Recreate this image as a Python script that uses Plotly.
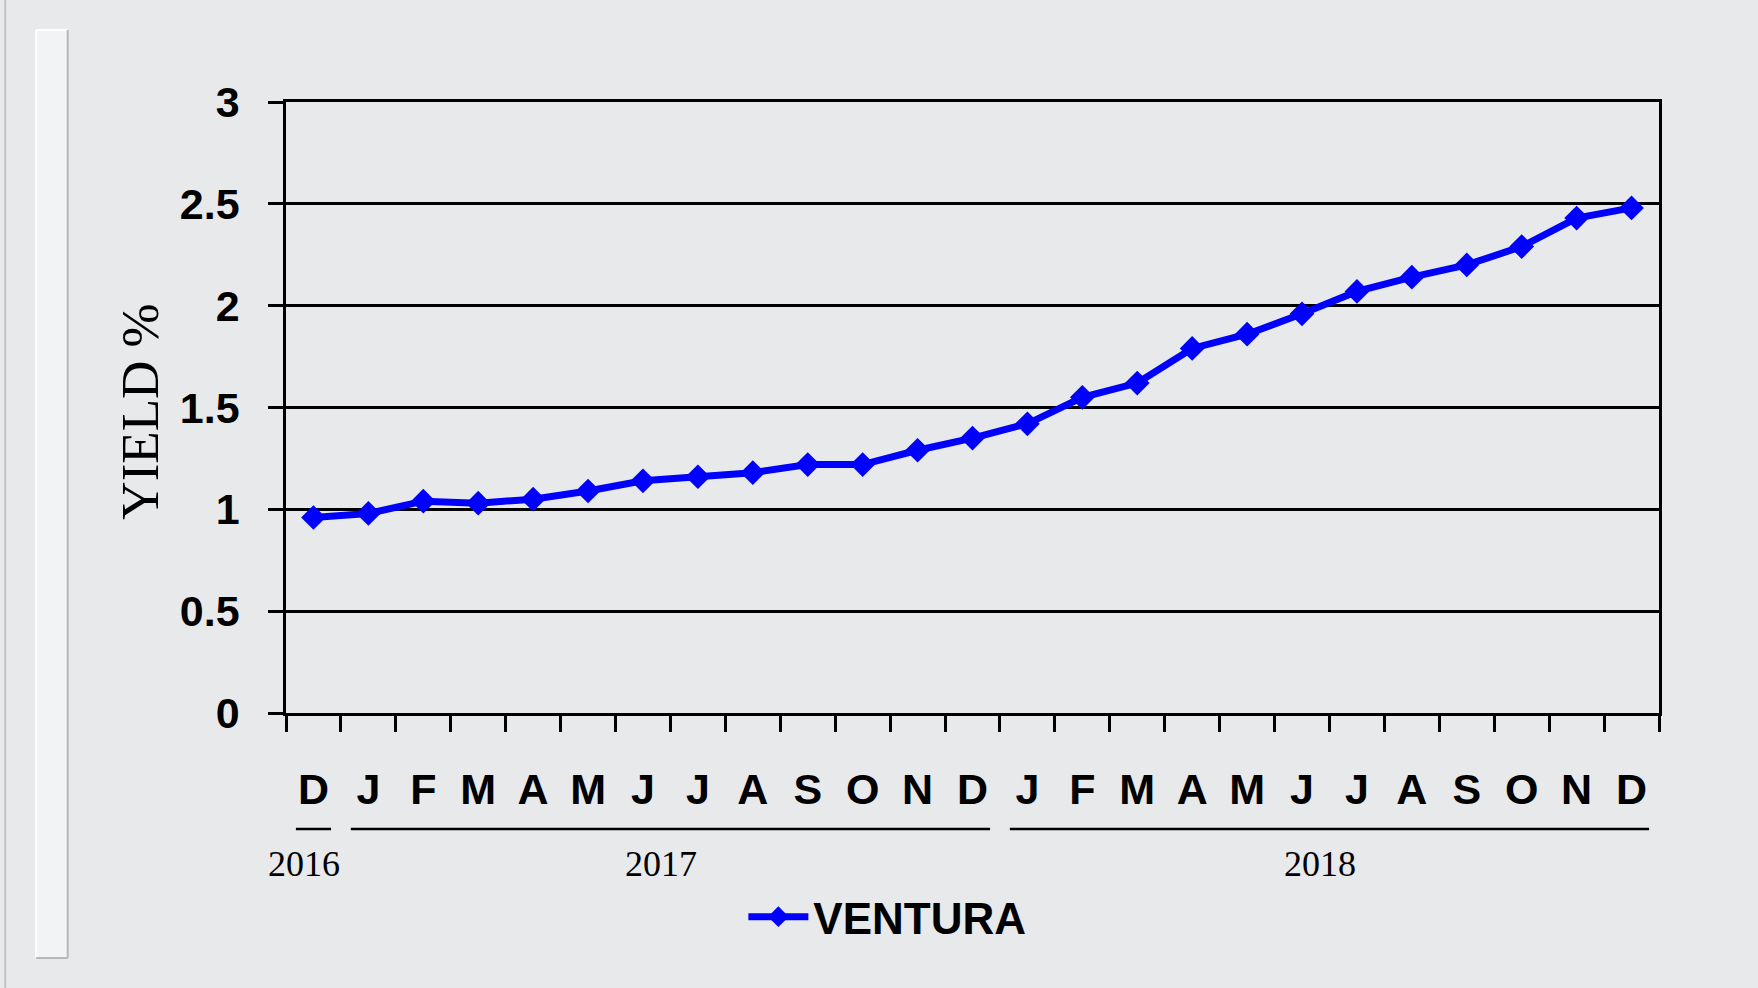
import plotly.graph_objects as go

months = ["D", "J", "F", "M", "A", "M", "J", "J", "A", "S", "O", "N", "D",
          "J", "F", "M", "A", "M", "J", "J", "A", "S", "O", "N", "D"]
years = ["2016"] + ["2017"] * 12 + ["2018"] * 12
yield_pct = [0.96, 0.98, 1.04, 1.03, 1.05, 1.09, 1.14, 1.16, 1.18, 1.22, 1.22, 1.29, 1.35,
             1.42, 1.55, 1.62, 1.79, 1.86, 1.96, 2.07, 2.14, 2.20, 2.29, 2.43, 2.48]
series_name = "VENTURA"
y_title = "YIELD %"
y_ticks = [0, 0.5, 1, 1.5, 2, 2.5, 3]
y_ticktext = ["0", "0.5", "1", "1.5", "2", "2.5", "3"]

x = list(range(len(months)))

BOLD = "Liberation Sans Narrow, Arial Narrow, Liberation Sans, Arial, sans-serif"
SERIF = "Liberation Serif, Times New Roman, serif"

fig = go.Figure()
fig.add_trace(go.Scatter(
    x=x, y=yield_pct, mode="lines+markers", name=series_name,
    line=dict(color="#0000ff", width=7),
    marker=dict(symbol="diamond", size=19, color="#0000ff"),
))

# year groups
groups = []
for i, yv in enumerate(years):
    if groups and groups[-1][0] == yv:
        groups[-1][2] = i
    else:
        groups.append([yv, i, i])

shapes = []
annotations = []
for yv, s, e in groups:
    shapes.append(dict(type="line", xref="x", yref="paper",
                       x0=s - 0.5 + 0.18, x1=e + 0.5 - 0.18, y0=-0.19, y1=-0.19,
                       line=dict(color="black", width=2.5)))
    annotations.append(dict(text=yv, xref="x", yref="paper", x=(s + e) / 2, y=-0.247,
                            xshift=-9, showarrow=False, xanchor="center", yanchor="middle",
                            font=dict(family=SERIF, size=36, color="black")))

annotations.append(dict(text=y_title, xref="paper", yref="paper", x=-0.106, y=0.494,
                        textangle=-90, showarrow=False, xanchor="center", yanchor="middle",
                        font=dict(family=SERIF, size=53, color="black")))

# decorative left strip
shapes += [
    dict(type="rect", xref="paper", yref="paper", x0=-0.182, x1=-0.159, y0=-0.401, y1=1.118,
         fillcolor="rgba(255,255,255,0.45)", line=dict(width=0), layer="below"),
    dict(type="line", xref="paper", yref="paper", x0=-0.182, x1=-0.182, y0=-0.401, y1=1.118,
         line=dict(color="white", width=2)),
    dict(type="line", xref="paper", yref="paper", x0=-0.182, x1=-0.159, y0=1.118, y1=1.118,
         line=dict(color="white", width=2)),
    dict(type="line", xref="paper", yref="paper", x0=-0.159, x1=-0.159, y0=-0.401, y1=1.118,
         line=dict(color="#b8b8b8", width=2)),
    dict(type="line", xref="paper", yref="paper", x0=-0.182, x1=-0.159, y0=-0.401, y1=-0.401,
         line=dict(color="#b8b8b8", width=2)),
    dict(type="line", xref="paper", yref="paper", x0=-0.2045, x1=-0.2045, y0=-0.45, y1=1.17,
         line=dict(color="#c4c4c4", width=2)),
]

fig.update_layout(
    width=1758, height=988,
    margin=dict(l=286, r=99, t=102, b=275),
    paper_bgcolor="#e8e9eb", plot_bgcolor="rgba(0,0,0,0)",
    showlegend=True,
    legend=dict(orientation="h", x=0.438, y=-0.334, xanchor="center", yanchor="middle",
                font=dict(family=BOLD, size=44, color="black", weight="bold"),
                bgcolor="rgba(0,0,0,0)", itemwidth=60),
    shapes=shapes, annotations=annotations,
    xaxis=dict(range=[-0.5, len(months) - 0.5], tickmode="array", tickvals=x, ticktext=months,
               ticks="", showgrid=False, zeroline=False, showline=True, mirror=True,
               linecolor="black", linewidth=2.5, ticklabelstandoff=37,
               tickfont=dict(family=BOLD, size=43, color="black", weight="bold"),
               minor=dict(tickmode="array", tickvals=[i - 0.5 for i in range(len(months) + 1)],
                          ticks="outside", ticklen=16, tickwidth=2.5, tickcolor="black",
                          showgrid=False)),
    yaxis=dict(range=[0, 3], tickmode="array", tickvals=y_ticks, ticktext=y_ticktext,
               ticks="outside", ticklen=15, tickwidth=2.5, tickcolor="black",
               showgrid=True, gridcolor="black", gridwidth=2.5, zeroline=False,
               showline=True, mirror=True, linecolor="black", linewidth=2.5,
               ticklabelstandoff=20,
               tickfont=dict(family=BOLD, size=43, color="black", weight="bold")),
)

fig.write_html("out.html", config={"displayModeBar": False},
               post_script="document.body.style.margin='0';document.body.style.overflow='hidden';")
